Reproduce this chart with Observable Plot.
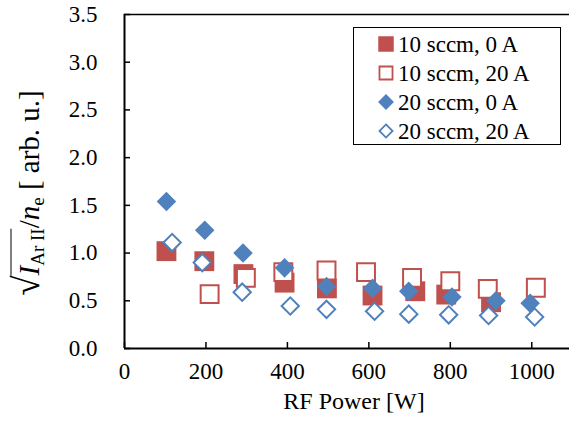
<!DOCTYPE html>
<html><head><meta charset="utf-8">
<script src="https://cdn.jsdelivr.net/npm/d3@7"></script>
<script src="https://cdn.jsdelivr.net/npm/@observablehq/plot@0.6"></script>
<style>
body{margin:0;background:#fff;font-family:'Liberation Serif',serif;}
#wrap{position:relative;width:569px;height:421px;overflow:hidden;font-family:'Liberation Serif',serif;color:#000;}
#wrap svg.plot{position:absolute;left:0;top:0;}
#ylab{position:absolute;left:27px;top:193px;transform:translate(-50%,-50%) rotate(-90deg);white-space:nowrap;font-size:29px;line-height:1;}
#ylab sub{font-size:19px;vertical-align:-5px;font-style:normal;}
#ylab .ov{border-top:1.5px solid #000;padding-top:1px;}
#ylab .rad{font-size:37px;}
#xlab{position:absolute;left:254px;width:200px;top:389px;text-align:center;font-size:24px;line-height:24px;}
#legend{position:absolute;left:353px;top:27px;width:206px;height:116px;border:1.5px solid #000;background:#fff;}
.row{position:absolute;left:0;height:28px;display:flex;align-items:center;font-size:23px;line-height:23px;white-space:nowrap;}
.row svg{margin-left:22px;margin-right:2px;}
</style></head><body><div id="wrap">
<div id="ylab"><span class="rad">√</span><span class="ov"><i>I</i><sub>Ar II</sub></span>/<i>n</i><sub>e</sub>&nbsp;[ arb. u.]</div>
<div id="xlab">RF Power [W]</div>
</div>
<script>
// ---- data ----
const seriesNames = ["10 sccm, 0 A", "10 sccm, 20 A", "20 sccm, 0 A", "20 sccm, 20 A"];
const power10_0  = [103, 196, 292, 393, 497, 609, 714, 790, 900];
const value10_0  = [1.02, 0.915, 0.78, 0.69, 0.63, 0.555, 0.60, 0.565, 0.485];
const power10_20 = [209, 298, 390, 496, 593, 706, 800, 892, 1010];
const value10_20 = [0.57, 0.74, 0.80, 0.817, 0.80, 0.74, 0.705, 0.625, 0.636];
const power20_0  = [103, 197, 291, 393, 496, 609, 698, 804, 912, 996];
const value20_0  = [1.54, 1.24, 1.00, 0.845, 0.65, 0.63, 0.60, 0.54, 0.50, 0.475];
const power20_20 = [117, 191, 289, 407, 496, 614, 698, 796, 894, 1007];
const value20_20 = [1.11, 0.90, 0.59, 0.445, 0.41, 0.39, 0.36, 0.353, 0.346, 0.33];
const xTicks = [0, 200, 400, 600, 800, 1000];
const yTicks = [0, 0.5, 1.0, 1.5, 2.0, 2.5, 3.0, 3.5];

const RED = "#C0504D", BLUE = "#4F81BD";
const FONT = "'Liberation Serif', serif";
const rows = (p, v) => p.map((x, i) => ({x, y: v[i]}));

const plot = Plot.plot({
  width: 569, height: 421,
  marginLeft: 124, marginRight: -3, marginTop: 14, marginBottom: 73,
  style: {fontFamily: FONT, fontSize: "23px", color: "#000", background: "transparent", overflow: "hidden"},
  x: {domain: [0, 1100]},
  y: {domain: [0, 3.5]},
  marks: [
    Plot.axisX({ticks: xTicks, tickSize: -6, tickPadding: 20, tickFormat: d => String(d), label: null, strokeWidth: 1.5, fontFamily: FONT}),
    Plot.axisY({ticks: yTicks, tickSize: -6, tickPadding: 33, tickFormat: d => d.toFixed(1), label: null, strokeWidth: 1.5, fontFamily: FONT}),
    Plot.ruleX([0], {stroke: "#000", strokeWidth: 2}),
    Plot.ruleY([0], {stroke: "#000", strokeWidth: 2}),
    Plot.ruleY([3.5], {stroke: "#000", strokeWidth: 1.5}),
    Plot.dot(rows(power10_0, value10_0), {x: "x", y: "y", symbol: "square", r: 11.2, fill: RED, stroke: "none"}),
    Plot.dot(rows(power10_20, value10_20), {x: "x", y: "y", symbol: "square", r: 10.1, fill: "#fff", stroke: RED, strokeWidth: 2}),
    Plot.dot(rows(power20_0, value20_0), {x: "x", y: "y", symbol: "diamond2", r: 8.8, fill: BLUE, stroke: "none"}),
    Plot.dot(rows(power20_20, value20_20), {x: "x", y: "y", symbol: "diamond2", r: 7.8, fill: "#fff", stroke: BLUE, strokeWidth: 2})
  ]
});
const wrap = document.getElementById("wrap");
wrap.insertBefore(plot, wrap.firstChild);

// legend
const legend = document.createElement("div");
legend.id = "legend";
const styles = [
  {type: d3.symbolSquare, size: 240, fill: RED, stroke: "none"},
  {type: d3.symbolSquare, size: 170, fill: "#fff", stroke: RED},
  {type: d3.symbolDiamond2, size: 160, fill: BLUE, stroke: "none"},
  {type: d3.symbolDiamond2, size: 110, fill: "#fff", stroke: BLUE}
];
seriesNames.forEach((name, i) => {
  const row = document.createElement("div");
  row.className = "row";
  row.style.top = (2 + i * 29) + "px";
  const s = styles[i];
  const sym = d3.symbol(s.type, s.size)();
  row.innerHTML = `<svg width="20" height="20" viewBox="-10 -10 20 20"><path d="${sym}" fill="${s.fill}" stroke="${s.stroke}" stroke-width="1.8"/></svg><span>${name}</span>`;
  legend.appendChild(row);
});
wrap.appendChild(legend);
</script>
</body></html>
